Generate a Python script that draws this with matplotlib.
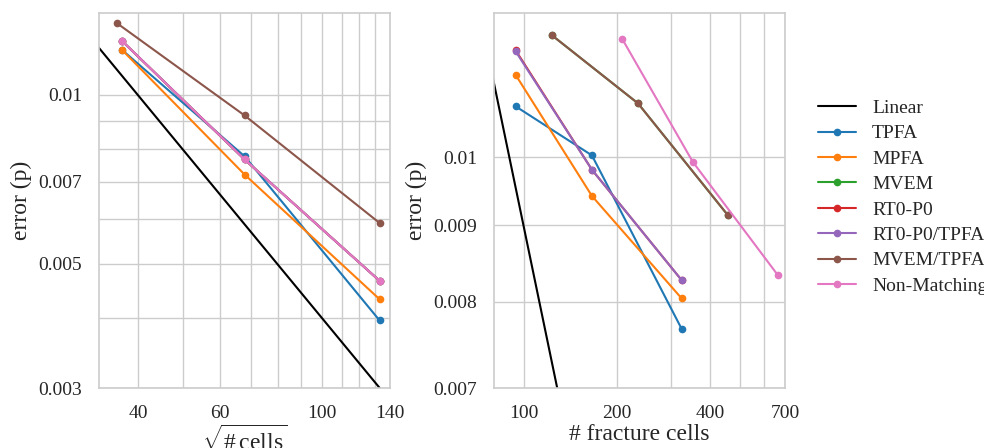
import matplotlib
matplotlib.use("Agg")
import matplotlib.pyplot as plt
import numpy as np
import seaborn as sns

# --- data -------------------------------------------------------------
methods = ['TPFA', 'MPFA', 'MVEM', 'RT0-P0', 'RT0-P0/TPFA', 'MVEM/TPFA', 'Non-Matching']

# left: error vs sqrt(# cells)
sqrt_cells = {
    'TPFA': [36.9, 67.9, 132.9],
    'MPFA': [36.9, 67.9, 132.9],
    'MVEM': [36.9, 67.9, 132.9],
    'RT0-P0': [36.9, 67.9, 132.9],
    'RT0-P0/TPFA': [36.9, 67.9, 132.9],
    'MVEM/TPFA': [36.0, 67.9, 132.9],
    'Non-Matching': [36.9, 67.9, 132.9],
}
err_cells = {
    'TPFA': [0.01203, 0.00777, 0.00396],
    'MPFA': [0.01203, 0.00721, 0.00432],
    'MVEM': [0.01248, 0.00767, 0.00466],
    'RT0-P0': [0.01248, 0.00767, 0.00466],
    'RT0-P0/TPFA': [0.01248, 0.00767, 0.00466],
    'MVEM/TPFA': [0.01342, 0.00919, 0.00591],
    'Non-Matching': [0.01248, 0.00767, 0.00466],
}

# right: error vs # fracture cells
frac_cells = {
    'TPFA': [94, 166, 324],
    'MPFA': [94, 166, 324],
    'MVEM': [123, 234, 458],
    'RT0-P0': [94, 166, 324],
    'RT0-P0/TPFA': [94, 166, 324],
    'MVEM/TPFA': [123, 234, 458],
    'Non-Matching': [208, 352, 665],
}
err_frac = {
    'TPFA': [0.01082, 0.01003, 0.00767],
    'MPFA': [0.01136, 0.00942, 0.00804],
    'MVEM': [0.01208, 0.01087, 0.00914],
    'RT0-P0': [0.01180, 0.00981, 0.00827],
    'RT0-P0/TPFA': [0.01178, 0.00981, 0.00827],
    'MVEM/TPFA': [0.01208, 0.01087, 0.00914],
    'Non-Matching': [0.01201, 0.00993, 0.00833],
}

# reference slope -1 lines
lin_left_x = [30, 132.9]
lin_left_c = 0.399
lin_right_x = [70, 300]
lin_right_c = 0.897

# --- style ------------------------------------------------------------
sns.set_style('whitegrid')
plt.rcParams['font.family'] = ['Liberation Serif', 'DejaVu Serif']
plt.rcParams['mathtext.fontset'] = 'custom'
plt.rcParams['mathtext.rm'] = 'Liberation Serif'
plt.rcParams['font.size'] = 14

colors = plt.rcParams['axes.prop_cycle'].by_key()['color']

fig = plt.figure(figsize=(9.84, 4.48), dpi=100)
ax1 = fig.add_axes([99/984, 60/448, 291/984, 375/448])
ax2 = fig.add_axes([494/984, 60/448, 291/984, 375/448])


def draw(ax, xs, ys, lin_x, lin_c):
    lx = np.array(lin_x, dtype=float)
    ax.plot(lx, lin_c / lx, color='black', lw=1.5, label='Linear')
    for i, m in enumerate(methods):
        ax.plot(xs[m], ys[m], color=colors[i], marker='o', ms=4.5, lw=1.5, label=m)
    ax.set_xscale('log')
    ax.set_yscale('log')
    ax.grid(True, which='both', color='#cccccc', lw=1)
    for s in ax.spines.values():
        s.set_color('#cccccc')
        s.set_linewidth(1.2)
    ax.tick_params(which='both', length=0)
    ax.tick_params(axis='x', pad=12)
    ax.tick_params(axis='y', pad=12)
    ax.set_ylabel('error (p)', fontsize=17, labelpad=5)


draw(ax1, sqrt_cells, err_cells, lin_left_x, lin_left_c)
ax1.set_xlim(32.9, 140)
ax1.set_ylim(0.003, 0.014)
ax1.set_xticks([40, 60, 100, 140])
ax1.set_xticklabels(['40', '60', '100', '140'])
ax1.set_xticks([50, 70, 80, 90, 110, 120, 130], minor=True)
ax1.set_xticklabels([], minor=True)
ax1.set_yticks([0.003, 0.005, 0.007, 0.01])
ax1.set_yticklabels(['0.003', '0.005', '0.007', '0.01'])
ax1.set_yticks([0.004, 0.006, 0.008, 0.009], minor=True)
ax1.set_yticklabels([], minor=True)
ax1.set_xlabel(r'$\sqrt{\mathrm{\#\,cells}}$', fontsize=17, labelpad=3)

draw(ax2, frac_cells, err_frac, lin_right_x, lin_right_c)
ax2.set_xlim(80, 700)
ax2.set_ylim(0.007, 0.0125)
ax2.set_xticks([100, 200, 400, 700])
ax2.set_xticklabels(['100', '200', '400', '700'])
ax2.set_xticks([300, 500, 600], minor=True)
ax2.set_xticklabels([], minor=True)
ax2.set_yticks([0.007, 0.008, 0.009, 0.01])
ax2.set_yticklabels(['0.007', '0.008', '0.009', '0.01'])
ax2.set_yticks([], minor=True)
ax2.set_xlabel('# fracture cells', fontsize=17, labelpad=2)

handles, labels = ax2.get_legend_handles_labels()
fig.legend(handles, labels, loc='center left', bbox_to_anchor=(800/984, 0.56),
           frameon=False, fontsize=14, handlelength=2.0, handletextpad=0.8,
           labelspacing=0.4)

fig.savefig('out.png', dpi=100)
